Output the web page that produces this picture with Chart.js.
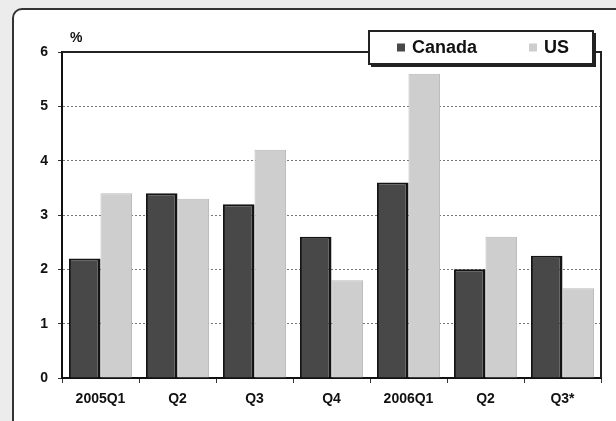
<!DOCTYPE html>
<html>
<head>
<meta charset="utf-8">
<script src="https://cdn.jsdelivr.net/npm/chart.js@4/dist/chart.umd.min.js"></script>
<style>
  html, body { margin: 0; padding: 0; background: #ececec; }
  #wrap { width: 616px; height: 421px; position: relative; }
</style>
</head>
<body>
<div id="wrap"><canvas id="c" width="616" height="421"></canvas></div>
<script>
// Quarterly growth, Canada vs US (%)
const categories = ['2005Q1', 'Q2', 'Q3', 'Q4', '2006Q1', 'Q2', 'Q3*'];
const canadaValues = [2.2, 3.4, 3.2, 2.6, 3.6, 2.0, 2.25];
const usValues = [3.4, 3.3, 4.2, 1.8, 5.6, 2.6, 1.65];
const seriesNames = ['Canada', 'US'];
const yTickValues = [0, 1, 2, 3, 4, 5, 6];
const unitLabel = '%';

const FONT = '"Liberation Sans", Arial, sans-serif';
const CANADA_FILL = '#484848';
const US_FILL = '#cecece';

// Page background with the rounded panel frame
const panelFrame = {
  id: 'panelFrame',
  beforeDraw(chart) {
    const ctx = chart.ctx;
    ctx.save();
    ctx.fillStyle = '#ececec';
    ctx.fillRect(0, 0, chart.width, chart.height);
    ctx.beginPath();
    ctx.roundRect(13, 9, 700, 500, 9);
    ctx.fillStyle = '#ffffff';
    ctx.fill();
    ctx.lineWidth = 2;
    ctx.strokeStyle = '#333';
    ctx.stroke();
    ctx.restore();
  }
};

// Top and right edges of the plot box, unit label and the boxed legend
const plotDecor = {
  id: 'plotDecor',
  afterDraw(chart) {
    const ctx = chart.ctx;
    const a = chart.chartArea;
    ctx.save();
    ctx.strokeStyle = '#222';
    ctx.lineWidth = 2;
    ctx.beginPath();
    ctx.moveTo(a.left, a.top);
    ctx.lineTo(a.right, a.top);
    ctx.lineTo(a.right, a.bottom);
    ctx.stroke();

    // unit label above the value axis
    ctx.fillStyle = '#111';
    ctx.font = 'bold 14px ' + FONT;
    ctx.textAlign = 'left';
    ctx.textBaseline = 'alphabetic';
    ctx.fillText(unitLabel, a.left + 8, a.top - 10);

    // legend box
    const bw = 224, bh = 33;
    const bx = a.right - 8 - bw, by = a.top - 21;
    ctx.fillStyle = '#fff';
    ctx.fillRect(bx, by, bw, bh);
    ctx.lineWidth = 2;
    ctx.strokeStyle = '#222';
    ctx.strokeRect(bx, by, bw, bh);
    ctx.beginPath();
    ctx.moveTo(bx + 2, by + bh + 2);
    ctx.lineTo(bx + bw + 2, by + bh + 2);
    ctx.lineTo(bx + bw + 2, by + 2);
    ctx.stroke();

    const ds = chart.data.datasets;
    const items = [
      { x: bx + 28, label: ds[0].label, color: ds[0].backgroundColor },
      { x: bx + 160, label: ds[1].label, color: ds[1].backgroundColor }
    ];
    ctx.font = 'bold 18px ' + FONT;
    ctx.textBaseline = 'middle';
    items.forEach(it => {
      ctx.fillStyle = it.color;
      ctx.fillRect(it.x, by + bh / 2 - 4, 8, 8);
      ctx.fillStyle = '#111';
      ctx.fillText(it.label, it.x + 15, by + bh / 2 + 1);
    });
    ctx.restore();
  }
};

new Chart(document.getElementById('c'), {
  type: 'bar',
  data: {
    labels: categories,
    datasets: [
      {
        label: seriesNames[0],
        data: canadaValues,
        backgroundColor: CANADA_FILL,
        borderColor: '#141414',
        borderWidth: { top: 2, left: 2, right: 3, bottom: 0 },
        borderSkipped: false
      },
      {
        label: seriesNames[1],
        data: usValues,
        backgroundColor: US_FILL,
        borderColor: '#b8b8b8',
        borderWidth: { top: 1, left: 1, right: 1, bottom: 0 },
        borderSkipped: false
      }
    ]
  },
  options: {
    responsive: false,
    animation: false,
    devicePixelRatio: 1,
    layout: { padding: { top: 52, right: 15, bottom: 0, left: 0 } },
    datasets: { bar: { categoryPercentage: 0.82, barPercentage: 1.0 } },
    plugins: {
      legend: { display: false },
      tooltip: { enabled: false }
    },
    scales: {
      x: {
        grid: {
          drawOnChartArea: false,
          drawTicks: true,
          tickLength: 5,
          tickColor: '#333',
          offset: true
        },
        border: { display: true, color: '#111', width: 2 },
        ticks: {
          color: '#111',
          font: { family: FONT, size: 14, weight: 'bold' },
          padding: 8,
          maxRotation: 0,
          autoSkip: false
        },
        afterFit(scale) { scale.height = 43; }
      },
      y: {
        min: 0,
        max: 6,
        afterBuildTicks(scale) { scale.ticks = yTickValues.map(v => ({ value: v })); },
        grid: {
          color: ctx => (ctx.tick && (ctx.tick.value === 0 || ctx.tick.value === 6)) ? 'rgba(0,0,0,0)' : '#777',
          lineWidth: 1,
          tickColor: '#333',
          tickLength: 4,
          tickBorderDash: []
        },
        border: { display: true, color: '#111', width: 2, dash: [2, 2] },
        ticks: {
          color: '#111',
          font: { family: FONT, size: 14, weight: 'bold' },
          padding: 10
        },
        afterFit(scale) { scale.width = 62; }
      }
    }
  },
  plugins: [panelFrame, plotDecor]
});
</script>
</body>
</html>
